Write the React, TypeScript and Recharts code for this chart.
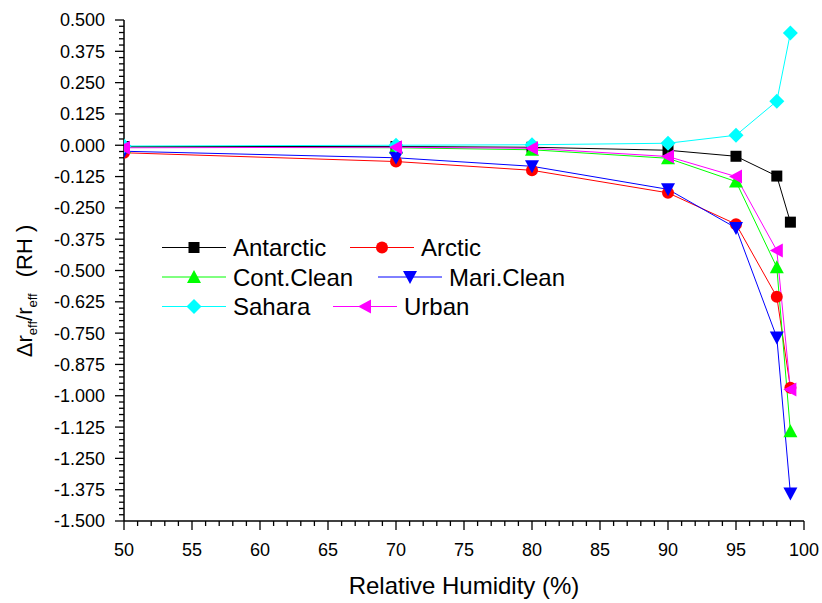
import React from 'react';
import { LineChart, Line, XAxis, YAxis, Legend } from 'recharts';

// relative humidity (%) where each aerosol type was computed
const humidity = [50, 70, 80, 90, 95, 98, 99];

// Δr_eff / r_eff for each aerosol type
const antarctic = [-0.005, -0.005, -0.008, -0.02, -0.044, -0.123, -0.307];
const arctic = [-0.03, -0.065, -0.1, -0.19, -0.315, -0.605, -0.968];
const contClean = [-0.008, -0.01, -0.018, -0.052, -0.145, -0.487, -1.142];
const mariClean = [-0.024, -0.05, -0.084, -0.176, -0.33, -0.767, -1.39];
const sahara = [-0.003, 0.0, 0.002, 0.008, 0.04, 0.176, 0.448];
const urban = [-0.01, -0.008, -0.012, -0.045, -0.125, -0.42, -0.975];

const xMajorTicks = [50, 55, 60, 65, 70, 75, 80, 85, 90, 95, 100];
const yMajorTicks = [
  0.5, 0.375, 0.25, 0.125, 0, -0.125, -0.25, -0.375, -0.5, -0.625, -0.75,
  -0.875, -1.0, -1.125, -1.25, -1.375, -1.5,
];

const W = 822;
const H = 603;
const PLOT_LEFT = 124;
const PLOT_BOTTOM = 521;
const FONT = '"Liberation Sans", Arial, Helvetica, sans-serif';

// minor ticks: every 1 % on x, every 0.025 on y
const xTicks: number[] = [];
for (let v = 50; v <= 100; v++) xTicks.push(v);
const yTicks: number[] = [];
for (let i = 0; i <= 80; i++) yTicks.push(Math.round((-1.5 + i * 0.025) * 1000) / 1000);

const isMajor = (v: number, majors: number[]) => majors.some(m => Math.abs(m - v) < 1e-6);

type Shape = 'square' | 'circle' | 'up' | 'down' | 'diamond' | 'left';

const series: { key: string; name: string; color: string; shape: Shape }[] = [
  { key: 'antarctic', name: 'Antarctic', color: '#000000', shape: 'square' },
  { key: 'arctic', name: 'Arctic', color: '#ff0000', shape: 'circle' },
  { key: 'contClean', name: 'Cont.Clean', color: '#00ff00', shape: 'up' },
  { key: 'mariClean', name: 'Mari.Clean', color: '#0000ff', shape: 'down' },
  { key: 'sahara', name: 'Sahara', color: '#00ffff', shape: 'diamond' },
  { key: 'urban', name: 'Urban', color: '#ff00ff', shape: 'left' },
];

const data = humidity.map((rh, i) => ({
  rh,
  antarctic: antarctic[i],
  arctic: arctic[i],
  contClean: contClean[i],
  mariClean: mariClean[i],
  sahara: sahara[i],
  urban: urban[i],
}));

const Marker = ({ cx, cy, color, shape }: { cx: number; cy: number; color: string; shape: Shape }) => {
  switch (shape) {
    case 'square':
      return <rect x={cx - 5.5} y={cy - 5.5} width={11} height={11} fill={color} />;
    case 'circle':
      return <circle cx={cx} cy={cy} r={6} fill={color} />;
    case 'up':
      return <polygon points={`${cx},${cy - 7} ${cx - 7},${cy + 6} ${cx + 7},${cy + 6}`} fill={color} />;
    case 'down':
      return <polygon points={`${cx - 7},${cy - 6} ${cx + 7},${cy - 6} ${cx},${cy + 7}`} fill={color} />;
    case 'diamond':
      return <polygon points={`${cx},${cy - 7.5} ${cx + 7.5},${cy} ${cx},${cy + 7.5} ${cx - 7.5},${cy}`} fill={color} />;
    default:
      return <polygon points={`${cx - 7},${cy} ${cx + 6},${cy - 7} ${cx + 6},${cy + 7}`} fill={color} />;
  }
};

const XTick = (props: any) => {
  const { x, payload } = props;
  const major = isMajor(payload.value, xMajorTicks);
  return (
    <g>
      <line x1={x} x2={x} y1={PLOT_BOTTOM} y2={PLOT_BOTTOM + (major ? 9 : 5)} stroke="#000" strokeWidth={1.3} />
      {major && (
        <text x={x} y={PLOT_BOTTOM + 35} textAnchor="middle" fontSize={18} fontFamily={FONT} fill="#000">
          {payload.value}
        </text>
      )}
    </g>
  );
};

const YTick = (props: any) => {
  const { y, payload } = props;
  const major = isMajor(payload.value, yMajorTicks);
  return (
    <g>
      <line x1={PLOT_LEFT - (major ? 9 : 5)} x2={PLOT_LEFT} y1={y} y2={y} stroke="#000" strokeWidth={1.3} />
      {major && (
        <text x={PLOT_LEFT - 19} y={y} dy="0.36em" textAnchor="end" fontSize={18} fontFamily={FONT} fill="#000">
          {payload.value.toFixed(3)}
        </text>
      )}
    </g>
  );
};

const YTitle = () => (
  <text transform="rotate(-90)" x={-291} y={32} textAnchor="middle" fontSize={22} fontFamily={FONT} fill="#000">
    Δr
    <tspan fontSize={13} dy={5}>eff</tspan>
    <tspan dy={-5}>/r</tspan>
    <tspan fontSize={13} dy={5}>eff</tspan>
    <tspan dy={-5} dx={16}>(RH )</tspan>
  </text>
);

const XTitle = () => (
  <text x={464} y={594} textAnchor="middle" fontSize={24} fontFamily={FONT} fill="#000">
    Relative Humidity (%)
  </text>
);

const LEGEND_ROW_Y = [247.5, 277, 306.5];
const LEGEND_COL2_X = [350, 378, 333];

const LegendBox = () => (
  <svg width={W} height={H} style={{ position: 'absolute', left: 0, top: 0 }}>
    {series.map((s, i) => {
      const row = Math.floor(i / 2);
      const x0 = i % 2 === 0 ? 162 : LEGEND_COL2_X[row];
      const y = LEGEND_ROW_Y[row];
      return (
        <g key={s.key}>
          <line x1={x0} x2={x0 + 64} y1={y} y2={y} stroke={s.color} strokeWidth={1} />
          <Marker cx={x0 + 32} cy={y} color={s.color} shape={s.shape} />
          <text x={x0 + 71} y={y} dy="0.36em" fontSize={24} fontFamily={FONT} fill="#000">
            {s.name}
          </text>
        </g>
      );
    })}
  </svg>
);

export default function App() {
  return (
    <div style={{ position: 'absolute', left: 0, top: 0, width: W, height: H, background: '#fff' }}>
      <LineChart width={W} height={H} data={data} margin={{ top: 20, right: 18, bottom: 0, left: 0 }}>
        <XAxis
          dataKey="rh"
          type="number"
          domain={[50, 100]}
          ticks={xTicks}
          interval={0}
          tickLine={false}
          tick={(p: any) => <XTick {...p} />}
          axisLine={{ stroke: '#000', strokeWidth: 1.5 }}
          height={82}
          allowDataOverflow
          label={<XTitle />}
        />
        <YAxis
          type="number"
          domain={[-1.5, 0.5]}
          ticks={yTicks}
          interval={0}
          tickLine={false}
          tick={(p: any) => <YTick {...p} />}
          axisLine={{ stroke: '#000', strokeWidth: 1.5 }}
          width={124}
          label={<YTitle />}
        />
        {series.map(s => (
          <Line
            key={s.key}
            dataKey={s.key}
            name={s.name}
            type="linear"
            stroke={s.color}
            strokeWidth={1}
            isAnimationActive={false}
            dot={(p: any) => <Marker key={`${s.key}-${p.index}`} cx={p.cx} cy={p.cy} color={s.color} shape={s.shape} />}
            activeDot={false}
          />
        ))}
        <Legend
          layout="vertical"
          align="center"
          verticalAlign="middle"
          content={<LegendBox />}
          wrapperStyle={{ left: 0, top: 0, width: W, height: H, pointerEvents: 'none' }}
        />
      </LineChart>
    </div>
  );
}
